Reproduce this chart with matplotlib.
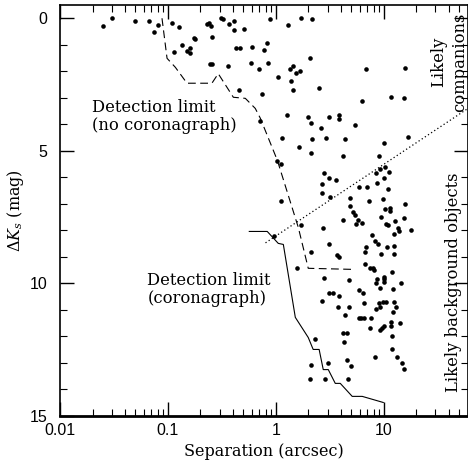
import numpy as np
import matplotlib.pyplot as plt
from matplotlib.ticker import MultipleLocator, LogLocator, NullFormatter, FixedFormatter, FixedLocator

plt.rcParams['mathtext.fontset'] = 'dejavuserif'

# companion candidates: separation (arcsec) and delta Ks (mag)
sep = [0.025, 0.030, 0.050, 0.066, 0.075, 0.081, 0.110, 0.127, 0.134, 0.113,
       0.150, 0.160, 0.161, 0.175, 0.179, 0.228, 0.239, 0.249, 0.255, 0.243,
       0.257, 0.308, 0.325, 0.356, 0.370, 0.405, 0.411, 0.429, 0.467, 0.451,
       0.501, 0.600, 0.587, 0.700, 0.767, 0.826, 0.849, 0.885, 1.28, 1.70,
       2.14, 1.04, 1.34, 1.43, 1.54, 1.68, 1.38, 1.44, 2.08, 2.48,
       0.736, 1.26, 1.96, 3.13, 3.80, 3.85, 0.705, 2.11, 2.61, 5.34,
       1.13, 2.17, 2.92, 4.38, 1.64, 2.11, 4.17, 10.1, 16.6, 9.08,
       1.03, 1.12, 1.12, 2.80, 3.12, 3.60, 2.67, 2.67, 3.18, 5.90,
       6.96, 4.82, 7.34, 8.48, 9.15, 10.3, 11.2, 8.67, 10.1, 11.0,
       9.86, 15.6, 4.82, 5.17, 5.42, 10.3, 11.4, 11.3, 4.17, 5.70,
       5.54, 6.26, 9.38, 10.5, 11.0, 12.7, 15.4, 13.6, 13.9, 17.8,
       1.72, 2.72, 7.74, 12.3, 0.95, 6.81, 15.7, 6.26, 11.7, 15.4,
       8.30, 8.79, 6.86, 6.71, 10.7, 12.3, 9.38, 12.3, 3.67, 3.80,
       3.13, 2.10, 6.71, 7.46, 7.91, 8.01, 11.9, 1.58, 2.80, 4.70,
       8.61, 9.92, 10.1, 10.1, 8.48, 14.4, 9.24, 12.1, 5.82, 6.39,
       3.13, 3.37, 3.80, 2.65, 6.57, 9.79, 10.5, 8.91, 12.3, 3.77,
       4.70, 8.48, 9.24, 13.0, 12.1, 4.35, 5.82, 6.12, 6.47, 7.58,
       11.7, 11.7, 14.2, 9.92, 9.58, 9.24, 7.46, 4.20, 4.51, 11.9,
       2.31, 4.29, 2.12, 3.00, 4.57, 4.95, 2.05, 2.86, 4.65, 8.30,
       11.9, 13.2, 14.7, 15.2]
dks = [0.30, 0.00, 0.10, 0.10, 0.52, 0.26, 0.16, 0.33, 1.02, 1.27,
       1.23, 1.12, 1.31, 0.74, 0.80, 0.23, 0.17, 0.30, 0.70, 1.71,
       1.71, 0.00, 0.01, 1.80, 0.21, 0.10, 0.43, 1.12, 1.12, 2.71,
       0.41, 1.09, 1.68, 1.91, 1.21, 0.93, 1.68, 0.04, 0.26, 0.00,
       0.04, 2.20, 1.90, 1.80, 2.08, 2.00, 2.37, 2.69, 1.48, 2.63,
       2.84, 3.66, 3.71, 3.71, 3.64, 3.79, 3.87, 3.95, 4.12, 4.01,
       4.53, 4.55, 4.50, 4.57, 4.86, 5.10, 5.20, 4.69, 4.47, 5.19,
       5.39, 5.48, 6.90, 5.83, 6.01, 6.11, 6.25, 6.59, 6.74, 6.35,
       6.35, 6.77, 6.89, 5.84, 5.68, 5.60, 5.80, 6.22, 6.04, 6.45,
       6.80, 7.00, 7.07, 7.32, 7.43, 7.19, 7.17, 7.26, 7.59, 7.60,
       7.77, 7.72, 7.51, 7.76, 7.80, 7.64, 7.55, 7.90, 8.02, 7.97,
       7.80, 7.91, 8.18, 8.12, 8.22, 1.92, 1.87, 3.12, 2.97, 2.99,
       8.39, 8.52, 8.62, 8.81, 8.62, 8.58, 8.90, 8.90, 8.93, 9.00,
       8.52, 8.81, 9.27, 9.43, 9.43, 9.50, 9.56, 9.40, 9.81, 9.88,
       9.85, 9.75, 9.85, 9.94, 10.00, 10.00, 10.19, 10.21, 10.25, 10.35,
       10.38, 10.38, 10.49, 10.66, 10.72, 10.69, 10.69, 10.75, 10.69, 10.90,
       10.90, 10.98, 10.90, 10.88, 11.07, 11.19, 11.30, 11.30, 11.32, 11.30,
       11.45, 11.61, 11.49, 11.61, 11.70, 11.76, 11.67, 11.86, 11.86, 12.00,
       12.09, 12.20, 13.09, 12.99, 12.89, 13.13, 13.59, 13.59, 13.59, 12.79,
       12.48, 12.79, 12.99, 13.23]

# detection limit without coronagraph
lim_sep = [0.088, 0.098, 0.117, 0.150, 0.255, 0.292, 0.403, 0.52, 0.643, 0.716,
           1.03, 1.61, 1.99, 5.08]
lim_dks = [0.0, 1.51, 1.85, 2.45, 2.45, 2.09, 2.98, 3.02, 3.4, 3.77,
           5.36, 7.89, 9.43, 9.47]

# detection limit with coronagraph
cor_sep = [0.566, 0.83, 1.05, 1.17, 1.51, 1.99, 2.21, 2.51, 2.74, 3.05,
           3.54, 3.94, 5.08, 6.29, 9.85]
cor_dks = [8.04, 8.04, 8.49, 8.53, 11.28, 12.04, 12.49, 12.49, 13.25, 13.25,
           13.77, 13.77, 14.26, 14.26, 14.49]

# companion / background dividing line
div_sep = [0.8, 60]
div_dks = [8.47, 3.4]

fig = plt.figure(figsize=(4.68, 4.66), dpi=100)
ax = fig.add_axes([60 / 468, 50 / 466, 408 / 468, 411 / 466])

ax.plot(sep, dks, 'o', color='black', markersize=3.3, markeredgewidth=0)
ax.plot(lim_sep, lim_dks, color='black', lw=0.8, dashes=(7, 4))
ax.plot(cor_sep, cor_dks, color='black', lw=0.8)
ax.plot(div_sep, div_dks, color='black', lw=0.9, ls=(0, (1, 2)))

ax.set_xscale('log')
ax.set_xlim(0.01, 60)
ax.set_ylim(15, -0.5)

ax.xaxis.set_major_locator(FixedLocator([0.01, 0.1, 1, 10]))
ax.xaxis.set_major_formatter(FixedFormatter(['0.01', '0.1', '1', '10']))
ax.xaxis.set_minor_locator(LogLocator(base=10, subs=np.arange(2, 10)))
ax.xaxis.set_minor_formatter(NullFormatter())
ax.yaxis.set_major_locator(MultipleLocator(5))
ax.yaxis.set_minor_locator(MultipleLocator(1))

ax.tick_params(which='both', direction='in', top=True, right=True)
ax.tick_params(which='major', length=10, width=1.0, labelsize=11.5)
ax.tick_params(which='minor', length=5, width=0.8)
ax.tick_params(axis='y', which='major', pad=9)
ax.tick_params(axis='x', which='major', pad=5)
for lab in ax.get_xticklabels() + ax.get_yticklabels():
    lab.set_family('Liberation Sans')
for s in ax.spines.values():
    s.set_linewidth(1.2)
ax.spines['bottom'].set_linewidth(2)

ax.set_xlabel('Separation (arcsec)', family='DejaVu Serif', fontsize=11.5, labelpad=4)
ax.set_ylabel(r'$\Delta K_s$ (mag)', family='DejaVu Serif', fontsize=11.5, labelpad=3)

ax.text(0.0199, 3.05, 'Detection limit\n(no coronagraph)', family='DejaVu Serif',
        fontsize=11.8, va='top', ha='left', linespacing=1.1)
ax.text(0.0645, 9.57, 'Detection limit\n(coronagraph)', family='DejaVu Serif',
        fontsize=11.8, va='top', ha='left', linespacing=1.1)
ax.text(40.3, 1.66, 'Likely\ncompanions', family='DejaVu Serif', fontsize=11.8,
        rotation=90, ha='center', va='center', multialignment='center', linespacing=1.3)
ax.text(43.8, 9.95, 'Likely background objects', family='DejaVu Serif', fontsize=11.8,
        rotation=90, ha='center', va='center')

fig.savefig('out.png', dpi=100)
